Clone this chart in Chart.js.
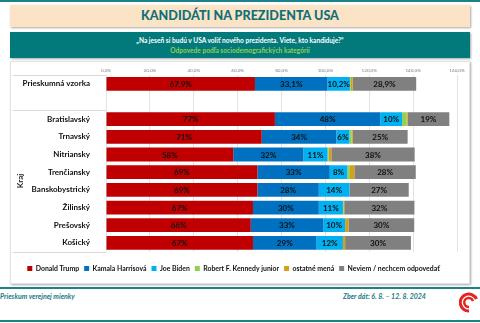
<!DOCTYPE html>
<html>
<head>
<meta charset="utf-8">
<script src="https://cdn.jsdelivr.net/npm/chart.js@4.4.1/dist/chart.umd.min.js"></script>
<style>
  html, body { margin: 0; padding: 0; background: #fff; }
  body { width: 480px; height: 323px; position: relative; overflow: hidden; font-family: Lato, "Open Sans", sans-serif; }
  .rule { position: absolute; left: 0; width: 480px; background: #1d8287; }
  .title { position: absolute; left: 10px; top: 5px; width: 460px; height: 22px; background: #fbe4c6;
    box-shadow: 1px 1px 2px rgba(0,0,0,0.35); color: #0f6f78; font-weight: 900; font-size: 12.6px;
    text-align: center; line-height: 22px; }
  .question { position: absolute; left: 10px; top: 32px; width: 460px; height: 26px; background: #027a7c;
    box-shadow: 1px 1px 2px rgba(0,0,0,0.35); text-align: center; font-weight: 700; font-size: 6.6px; line-height: 10px; padding-top: 3px; box-sizing: border-box; }
  .question .q { color: #fff; }
  .question .s { color: #8fd14f; }
  .frame { position: absolute; left: 10px; top: 61px; width: 460px; height: 223px; background: #fff;
    box-shadow: 1px 1px 2px rgba(0,0,0,0.35); border: 1px solid #e4e4e4; box-sizing: border-box; }
  #chart { position: absolute; left: 10px; top: 61px; }
  .foot { position: absolute; top: 292px; font-style: italic; font-weight: 700; font-size: 7px; color: #1b7a88; }
  .logo { position: absolute; left: 459px; top: 290px; }
</style>
</head>
<body>
<div class="rule" style="top:0;height:2px"></div>
<div class="title">KANDIDÁTI NA PREZIDENTA USA</div>
<div class="question">
  <div class="q">„Na jeseň si budú v USA voliť nového prezidenta. Viete, kto kandiduje?“</div>
  <div class="s">Odpovede podľa sociodemografických kategórií</div>
</div>
<div class="frame"></div>
<canvas id="chart" width="460" height="223"></canvas>
<div class="rule" style="top:287px;height:2px"></div>
<div class="foot" style="left:0">Prieskum verejnej mienky</div>
<div class="foot" style="left:343px">Zber dát: 6. 8. – 12. 8. 2024</div>
<svg class="logo" width="20" height="24" viewBox="0 0 20 24">
  <path d="M10 21 A8.5 8.5 0 1 1 17.5 9" fill="none" stroke="#e52421" stroke-width="3"/>
  <path d="M10 17 A4.5 4.5 0 1 1 14 11" fill="none" stroke="#e52421" stroke-width="2.5"/>
</svg>
<div class="rule" style="top:320px;height:2px"></div>

<script>
// rows: overall sample, an empty spacer row, then the regions (Kraj)
const categories = ['Prieskumná vzorka', '', 'Bratislavský', 'Trnavský', 'Nitriansky', 'Trenčiansky',
  'Banskobystrický', 'Žilinský', 'Prešovský', 'Košický'];
const trump   = [67.9, null, 77, 71, 58, 69, 69, 67, 66, 67];
const harris  = [33.1, null, 48, 34, 32, 33, 28, 30, 33, 29];
const biden   = [10.2, null, 10, 6, 11, 8, 14, 11, 10, 12];
const kennedy = [0.4, null, 2, 1, 0.4, 1.2, 0, 0.2, 0, 0];
const others  = [0.9, null, 0.5, 0.5, 1.3, 2, 0, 0.4, 1.5, 1];
const unsure  = [28.9, null, 19, 25, 38, 28, 27, 32, 30, 30];
const xTicks = [0, 20, 40, 60, 80, 100, 120, 140, 160];

const seriesNames = ['Donald Trump', 'Kamala Harrisová', 'Joe Biden', 'Robert F. Kennedy junior', 'ostatné mená', 'Neviem / nechcem odpovedať'];
const seriesColors = ['#c00000', '#0070c0', '#00b0f0', '#92d050', '#d4a017', '#808080'];
const seriesData = [trump, harris, biden, kennedy, others, unsure];
const labelled = [true, true, true, false, false, true];

const FONT = 'Lato, "Open Sans", sans-serif';

function pct(v, row) {
  if (row === 0) return v.toFixed(1).replace('.', ',') + '%';
  return Math.round(v) + '%';
}

// value text in the middle of each segment
const segmentLabels = {
  id: 'segmentLabels',
  afterDatasetsDraw(chart) {
    const ctx = chart.ctx;
    ctx.save();
    ctx.font = 'bold 8px ' + FONT;
    ctx.textAlign = 'center';
    ctx.textBaseline = 'middle';
    ctx.fillStyle = '#111';
    chart.data.datasets.forEach((ds, i) => {
      if (!labelled[i]) return;
      chart.getDatasetMeta(i).data.forEach((bar, j) => {
        const v = ds.data[j];
        if (v == null) return;
        const cx = (bar.x + bar.base) / 2;
        ctx.fillText(pct(v, j), cx, bar.y + 0.5);
      });
    });
    ctx.restore();
  }
};

// separators in the label column plus the rotated "Kraj" group title
const groupDecor = {
  id: 'groupDecor',
  afterDraw(chart) {
    const ctx = chart.ctx;
    const y = chart.scales.y;
    const area = chart.chartArea;
    const step = y.getPixelForValue(1) - y.getPixelForValue(0);
    const lines = [area.top, y.getPixelForValue(2) - step / 2, area.bottom];
    ctx.save();
    ctx.strokeStyle = '#d9d9d9';
    ctx.lineWidth = 1;
    lines.forEach((py) => {
      ctx.beginPath();
      ctx.moveTo(3, Math.round(py) + 0.5);
      ctx.lineTo(area.left, Math.round(py) + 0.5);
      ctx.stroke();
    });
    const mid = (y.getPixelForValue(2) + y.getPixelForValue(categories.length - 1)) / 2;
    ctx.translate(10, mid);
    ctx.rotate(-Math.PI / 2);
    ctx.font = 'bold 8px ' + FONT;
    ctx.fillStyle = '#1a1a1a';
    ctx.textAlign = 'center';
    ctx.textBaseline = 'middle';
    ctx.fillText('Kraj', 0, 0);
    ctx.restore();
  }
};

new Chart(document.getElementById('chart'), {
  type: 'bar',
  data: {
    labels: categories,
    datasets: seriesData.map((d, i) => ({
      label: seriesNames[i],
      data: d,
      backgroundColor: seriesColors[i],
      borderWidth: 0,
      categoryPercentage: 1,
      barPercentage: 0.78,
    })),
  },
  options: {
    responsive: false,
    animation: false,
    indexAxis: 'y',
    layout: { padding: { left: 0, right: 13, top: 0, bottom: 2 } },
    plugins: {
      legend: {
        position: 'bottom',
        // blank title only adds a gap above the legend row
        title: { display: true, text: ' ', font: { size: 2 }, padding: 3 },
        labels: {
          boxWidth: 5, boxHeight: 5, padding: 5, color: '#111',
          font: { family: FONT, size: 6.9, weight: 'bold' },
        },
      },
      tooltip: { enabled: false },
    },
    scales: {
      x: {
        position: 'top', stacked: true, min: 0, max: 160,
        afterBuildTicks: (s) => { s.ticks = xTicks.map((v) => ({ value: v })); },
        afterFit: (s) => { s.height = 14; },
        ticks: {
          color: '#7f7f7f', padding: 2, maxRotation: 0,
          font: { family: FONT, size: 4.6 },
          callback: (v) => v.toFixed(1).replace('.', ',') + '%',
        },
        grid: { color: '#e3e3e3', drawTicks: false },
        border: { display: false },
      },
      y: {
        stacked: true,
        afterFit: (s) => { s.width = 96; },
        ticks: { color: '#111', padding: 8, font: { family: FONT, size: 8, weight: 'bold' } },
        grid: { display: false },
        border: { display: false },
      },
    },
  },
  plugins: [segmentLabels, groupDecor],
});
</script>
</body>
</html>
